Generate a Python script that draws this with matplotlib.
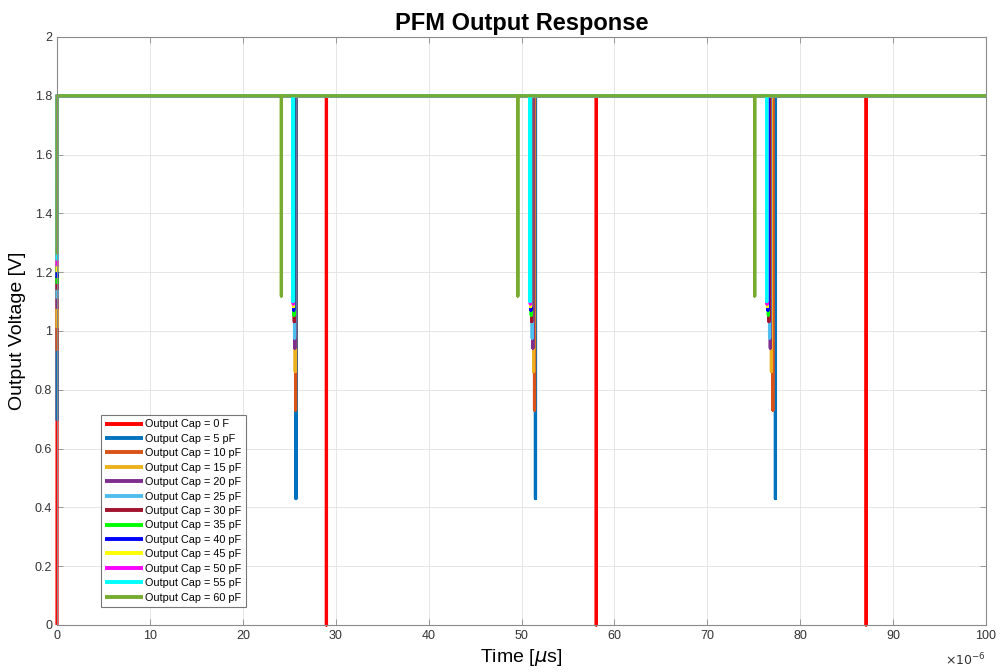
"""PFM output response for a sweep of output capacitance."""

import numpy as np
import matplotlib
matplotlib.use("Agg")
import matplotlib.pyplot as plt
from matplotlib.ticker import FormatStrFormatter

plt.rcParams["font.family"] = ["Liberation Sans", "DejaVu Sans"]

# series labels and colours (MATLAB style palette)
labels = ["0 F", "5 pF", "10 pF", "15 pF", "20 pF", "25 pF", "30 pF",
          "35 pF", "40 pF", "45 pF", "50 pF", "55 pF", "60 pF"]
colors = ["#FF0000", "#0072BD", "#D95319", "#EDB120", "#7E2F8E", "#4DBEEE",
          "#A2142F", "#00FF00", "#0000FF", "#FFFF00", "#FF00FF", "#00FFFF",
          "#77AC30"]

v_high = 1.8          # settled output level [V]
t_end = 100.0         # simulation length [us]
t_rise = 0.01         # start-up rise [us]

# starting voltage at t = 0 for every series [V]
v_start = [0.0, 0.695, 0.932, 1.01, 1.075, 1.11, 1.14,
           1.16, 1.18, 1.20, 1.22, 1.24, 1.26]

# reset instants [us] (three per series)
dip_times = [
    [29.0, 58.05, 87.1],
    [25.72, 51.5, 77.33],
    [25.68, 51.4, 77.05],
    [25.64, 51.3, 76.9],
    [25.6, 51.22, 76.78],
    [25.57, 51.15, 76.7],
    [25.54, 51.1, 76.63],
    [25.51, 51.05, 76.57],
    [25.48, 51.01, 76.52],
    [25.45, 50.98, 76.47],
    [25.43, 50.95, 76.43],
    [25.4, 50.92, 76.4],
    [24.15, 49.6, 75.1],
]

# lowest voltage reached during each reset [V]
dip_min = [0.0, 0.43, 0.731, 0.862, 0.942, 0.976, 1.032,
           1.054, 1.071, 1.083, 1.092, 1.10, 1.119]


def build_trace(v0, dips, vmin):
    t = [0.0, t_rise]
    v = [v0, v_high]
    for td in dips:
        t += [td, td, td]
        v += [v_high, vmin, v_high]
    t.append(t_end)
    v.append(v_high)
    return np.array(t), np.array(v)


fig = plt.figure(figsize=(10.04, 6.72), dpi=100)
ax = fig.add_axes([0.0568, 0.070, 0.9253, 0.875])

for lab, col, v0, dips, vmin in zip(labels, colors, v_start, dip_times, dip_min):
    t, v = build_trace(v0, dips, vmin)
    ax.plot(t, v, color=col, lw=2.3, solid_joinstyle="round",
            solid_capstyle="butt", clip_on=False,
            label=f"Output Cap = {lab}")

ax.set_xlim(0, 100)
ax.set_ylim(0, 2)
ax.set_xticks(np.arange(0, 101, 10))
ax.set_yticks(np.arange(0, 2.01, 0.2))
ax.yaxis.set_major_formatter(FormatStrFormatter("%g"))
ax.grid(True, color="#e2e2e2", lw=0.6)
ax.set_axisbelow(True)

axis_col = "#333333"
for sp in ax.spines.values():
    sp.set_color("#8a8a8a")
    sp.set_linewidth(0.8)
ax.tick_params(direction="in", length=4, width=0.6, colors="#8a8a8a",
               labelcolor=axis_col, labelsize=9, top=True, right=True,
               labeltop=False, labelright=False)

ax.set_title("PFM Output Response", fontsize=17, fontweight="bold", pad=5)
ax.set_xlabel(r"Time [$\mu$s]", fontsize=14, labelpad=4)
ax.set_ylabel("Output Voltage [V]", fontsize=14, labelpad=6)
ax.text(1.0, -0.045, r"$\times10^{-6}$", transform=ax.transAxes,
        ha="right", va="top", fontsize=9, color=axis_col)

leg = ax.legend(loc="lower left", bbox_to_anchor=(0.047, 0.031),
                borderaxespad=0, fontsize=7.8, frameon=True, fancybox=False,
                edgecolor="#555555", handlelength=3.5, handletextpad=0.25,
                labelspacing=0.41, borderpad=0.38)
leg.get_frame().set_linewidth(0.8)
for h in leg.get_lines():
    h.set_linewidth(2.8)

fig.savefig("out.png", dpi=100)
